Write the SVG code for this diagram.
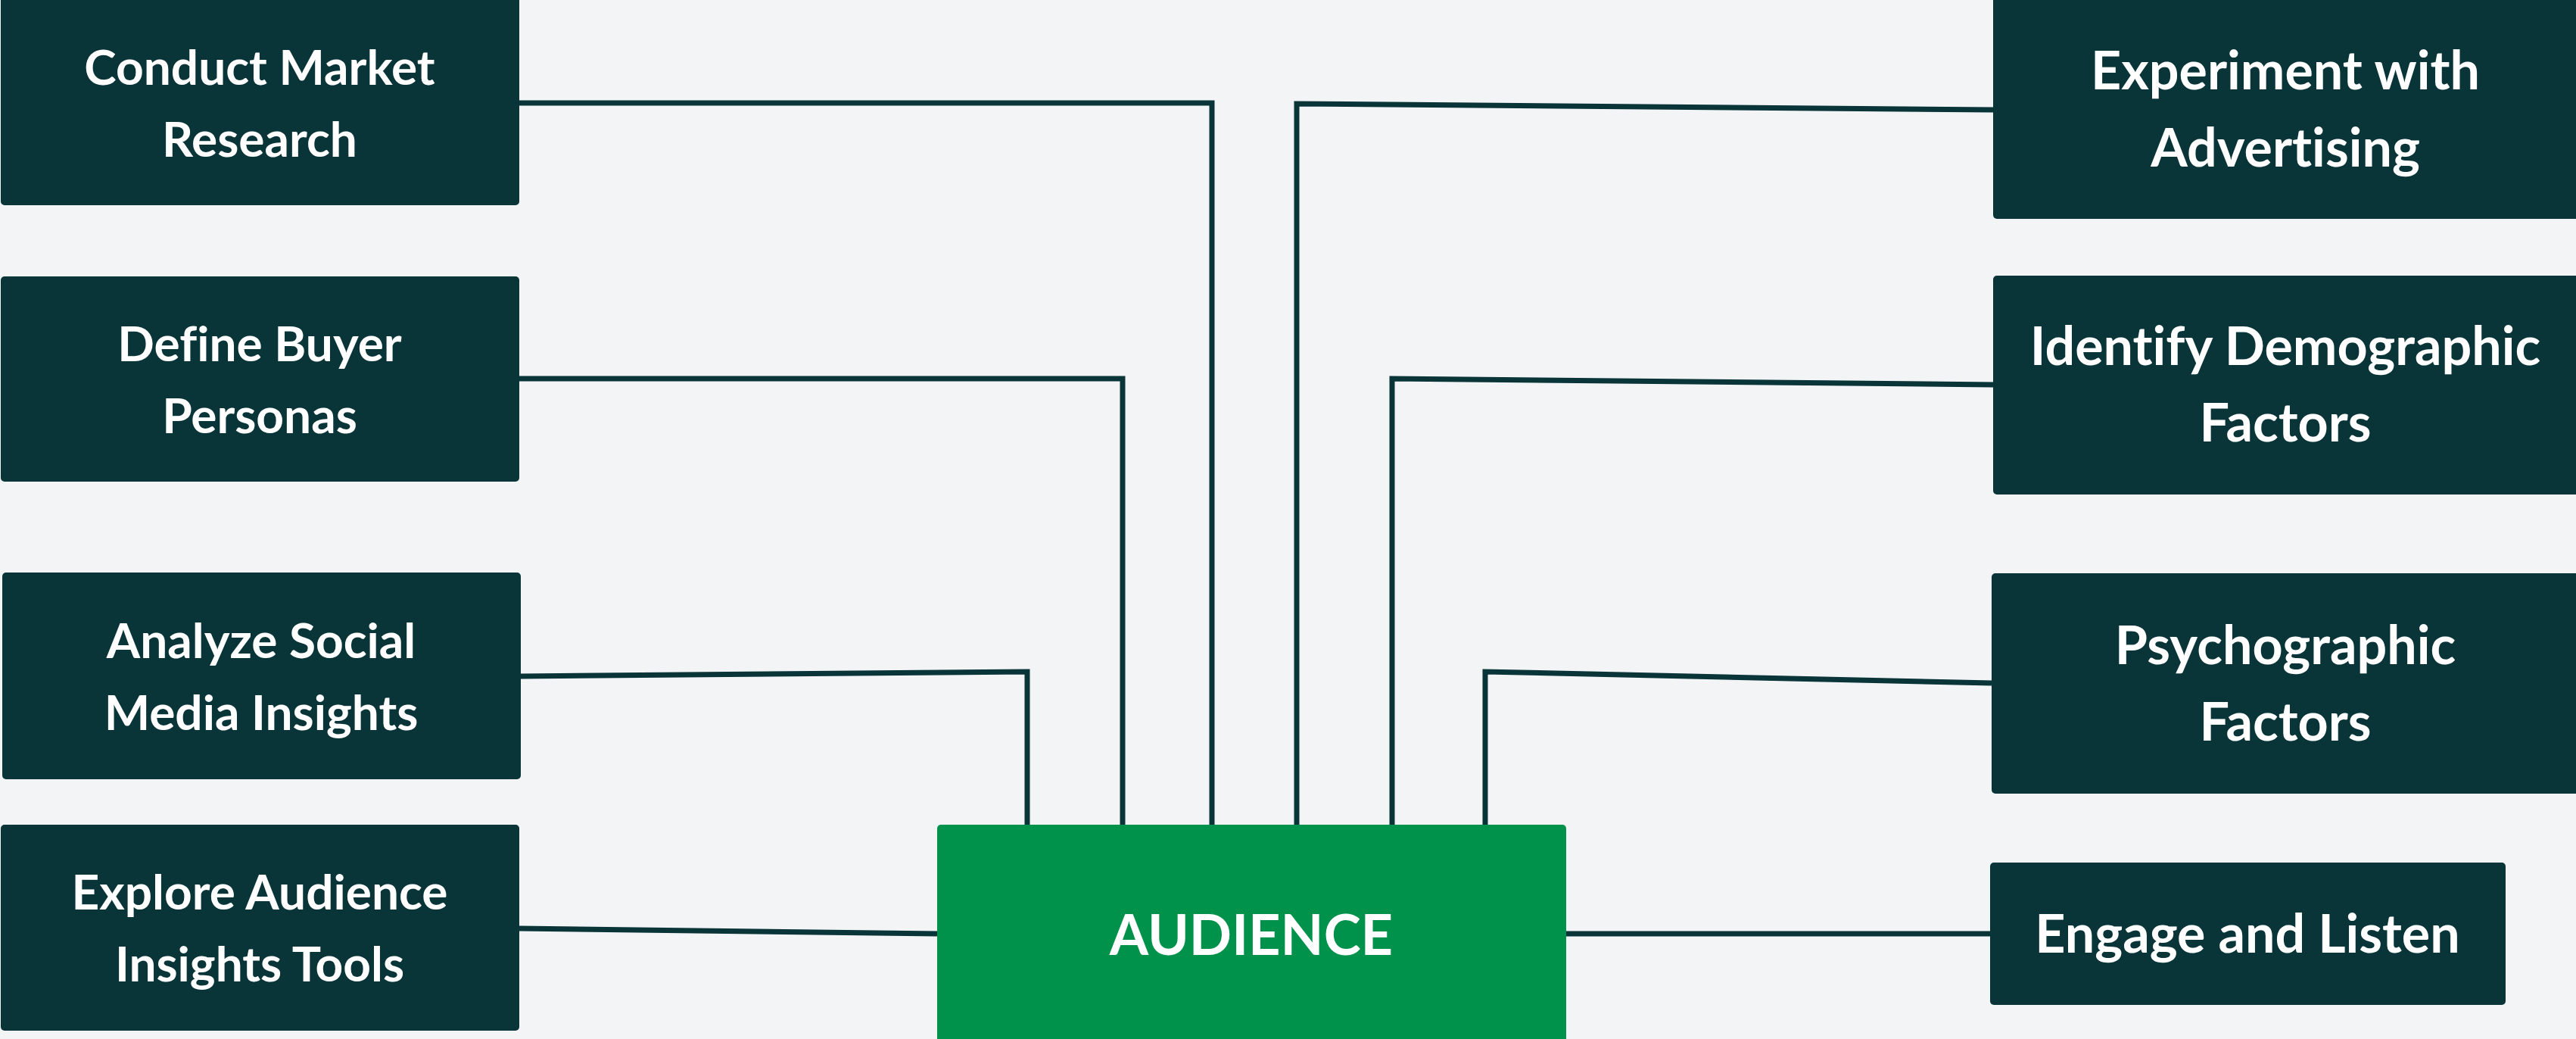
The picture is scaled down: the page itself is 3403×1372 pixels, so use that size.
<svg xmlns="http://www.w3.org/2000/svg" width="3403" height="1372" viewBox="0 0 3403 1372">
<style>
.bg{fill:#F3F4F6}
.box{fill:#093438}
.center{fill:#00924A}
.t{font-family:Lato,"Noto Sans","Liberation Sans",sans-serif;font-weight:700;fill:#FFFFFF;text-anchor:middle;font-variant-ligatures:none}
.l{font-size:64px}
.r{font-size:70px}
.c{font-size:74px}
.conn{fill:none;stroke:#093438;stroke-width:7;stroke-linejoin:miter;stroke-linecap:butt}
</style>
<rect class="bg" x="0" y="0" width="3403" height="1372"/>
<g id="connectors">
<polyline class="conn" points="686,136 1601,136 1601,1089"/>
<polyline class="conn" points="686,500 1483,500 1483,1089"/>
<polyline class="conn" points="688,893 1357,887 1357,1089"/>
<polyline class="conn" points="686,1226 1238,1233"/>
<polyline class="conn" points="2633,145 1713,137 1713,1089"/>
<polyline class="conn" points="2633,508 1839,500 1839,1089"/>
<polyline class="conn" points="2631,902 1962,887 1962,1089"/>
<polyline class="conn" points="2069,1233 2629,1233"/>
</g>
<g id="node-conduct-market-research">
<rect class="box" x="1" y="-10" width="685" height="281" rx="5"/>
<text class="t l" x="343" y="112">Conduct Market</text>
<text class="t l" x="343" y="207">Research</text>
</g>
<g id="node-define-buyer-personas">
<rect class="box" x="1" y="365" width="685" height="271" rx="5"/>
<text class="t l" x="343" y="477">Define Buyer</text>
<text class="t l" x="343" y="572">Personas</text>
</g>
<g id="node-analyze-social-media-insights">
<rect class="box" x="3" y="756" width="685" height="273" rx="5"/>
<text class="t l" x="345" y="869">Analyze Social</text>
<text class="t l" x="345" y="964">Media Insights</text>
</g>
<g id="node-explore-audience-insights-tools">
<rect class="box" x="1" y="1089" width="685" height="272" rx="5"/>
<text class="t l" x="343" y="1201">Explore Audience</text>
<text class="t l" x="343" y="1296">Insights Tools</text>
</g>
<g id="node-audience">
<rect class="center" x="1238" y="1089" width="831" height="300" rx="5"/>
<text class="t c" x="1653" y="1261">AUDIENCE</text>
</g>
<g id="node-experiment-with-advertising">
<rect class="box" x="2633" y="-10" width="790" height="299" rx="5"/>
<text class="t r" x="3019" y="118">Experiment with</text>
<text class="t r" x="3019" y="220">Advertising</text>
</g>
<g id="node-identify-demographic-factors">
<rect class="box" x="2633" y="364" width="790" height="289" rx="5"/>
<text class="t r" x="3019" y="482">Identify Demographic</text>
<text class="t r" x="3019" y="583">Factors</text>
</g>
<g id="node-psychographic-factors">
<rect class="box" x="2631" y="757" width="790" height="291" rx="5"/>
<text class="t r" x="3019" y="877">Psychographic</text>
<text class="t r" x="3019" y="978">Factors</text>
</g>
<g id="node-engage-and-listen">
<rect class="box" x="2629" y="1139" width="681" height="188" rx="5"/>
<text class="t r" x="2969" y="1258">Engage and Listen</text>
</g>
</svg>
